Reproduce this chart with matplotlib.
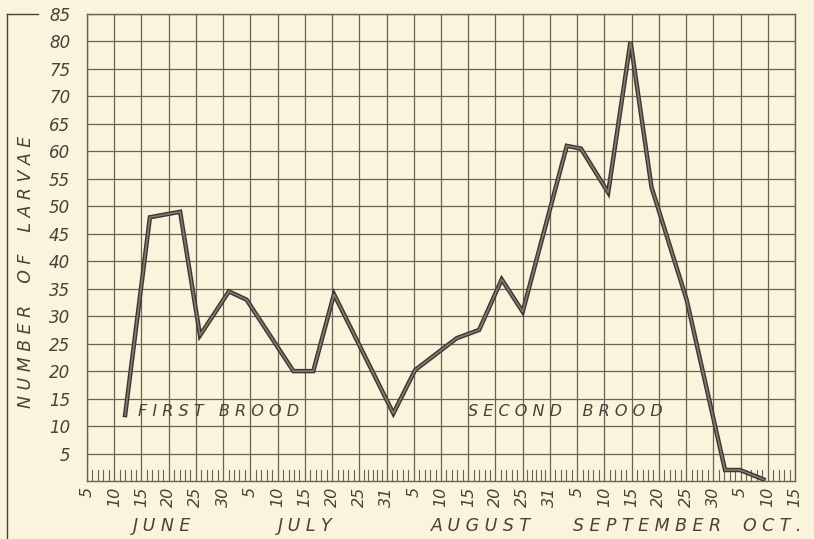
import matplotlib.pyplot as plt
from matplotlib.lines import Line2D

# x positions are in grid units: 0 = June 5, 1 = June 10, ... 26 = Oct 15
tick_labels = ['5', '10', '15', '20', '25', '30',
               '5', '10', '15', '20', '25', '31',
               '5', '10', '15', '20', '25', '31',
               '5', '10', '15', '20', '25', '30',
               '5', '10', '15']
tick_month_len = [30] * 6 + [31] * 6 + [31] * 6 + [30] * 6 + [31] * 3
months = ['JUNE', 'JULY', 'AUGUST', 'SEPTEMBER', 'OCT.']
month_pos = [2.75, 8.0, 14.45, 20.55, 25.15]

x_pos = [1.40, 2.31, 3.42, 4.15, 5.21, 5.86, 7.58, 8.31, 9.07, 11.25, 12.05,
         13.58, 14.40, 15.23, 16.00, 17.62, 18.14, 19.14, 19.96, 20.73, 22.02,
         23.43, 23.98, 24.84]
larvae = [12, 48, 49, 26.5, 34.5, 33, 20, 20, 34, 12.3, 20.2,
          26, 27.5, 36.7, 30.8, 61, 60.5, 52.5, 80, 53.5, 33,
          2, 2, 0.3]

y_ticks = list(range(5, 90, 5))

bg = '#faf4dc'
ink = '#4a4038'
grid_c = '#6e6052'
font = 'DejaVu Sans'

fig = plt.figure(figsize=(8.14, 5.39), dpi=100, facecolor=bg)
ax = fig.add_axes([87 / 814, 1 - 481 / 539, 708 / 814, 467 / 539])
ax.set_facecolor(bg)
n = len(tick_labels) - 1
ax.set_xlim(0, n)
ax.set_ylim(0, 85)

# grid
for i in range(n + 1):
    ax.axvline(i, color=grid_c, lw=0.9, zorder=1)
for v in y_ticks:
    ax.axhline(v, color=grid_c, lw=0.9, zorder=1)

# daily ruler ticks in the bottom row
for i in range(n):
    a = int(tick_labels[i])
    b = int(tick_labels[i + 1])
    days = b - a if b > a else b + tick_month_len[i] - a
    for k in range(1, days):
        ax.plot([i + k / days] * 2, [0, 2.0], color=grid_c, lw=0.8, zorder=1)

for s in ax.spines.values():
    s.set_color(grid_c)
    s.set_linewidth(1.0)

ax.set_xticks(range(n + 1))
ax.set_xticklabels(tick_labels, rotation=90, fontsize=11.5, fontstyle='italic',
                   color=ink, family=font, va='top', ha='center')
ax.set_yticks(y_ticks)
ax.set_yticklabels([str(v) for v in y_ticks], fontsize=12, fontstyle='italic',
                   color=ink, family=font)
ax.tick_params(length=0, pad=4)
ax.tick_params(axis='y', pad=12)

# the curve
ax.plot(x_pos, larvae, color='#3f3631', lw=3.2, solid_joinstyle='miter', zorder=3)
ax.plot(x_pos, larvae, color='#857970', lw=1.2, solid_joinstyle='miter', zorder=4)

ax.text(1.87, 12.6, 'F I R S T   B R O O D', fontsize=11.5, fontstyle='italic',
        color=ink, family=font, va='center', ha='left', zorder=5)
ax.text(14.0, 12.6, 'S E C O N D    B R O O D', fontsize=11.5, fontstyle='italic',
        color=ink, family=font, va='center', ha='left', zorder=5)

for m, p in zip(months, month_pos):
    ax.text(p, -8.2, ' '.join(m), fontsize=12.5, fontstyle='italic', color=ink,
            family=font, ha='center', va='center', clip_on=False)

fig.text(26 / 814, 1 - 272 / 539, 'N U M B E R    O F    L A R V A E',
         rotation=90, fontsize=12.5, fontstyle='italic', color=ink, family=font,
         ha='center', va='center')

# bracket line on the left edge
fig.add_artist(Line2D([7 / 814, 7 / 814], [0, 1 - 14 / 539], color=ink, lw=1.0))
fig.add_artist(Line2D([7 / 814, 38 / 814], [1 - 14 / 539, 1 - 14 / 539],
                      color=ink, lw=1.0))

fig.savefig('out.png', dpi=100, facecolor=bg)
